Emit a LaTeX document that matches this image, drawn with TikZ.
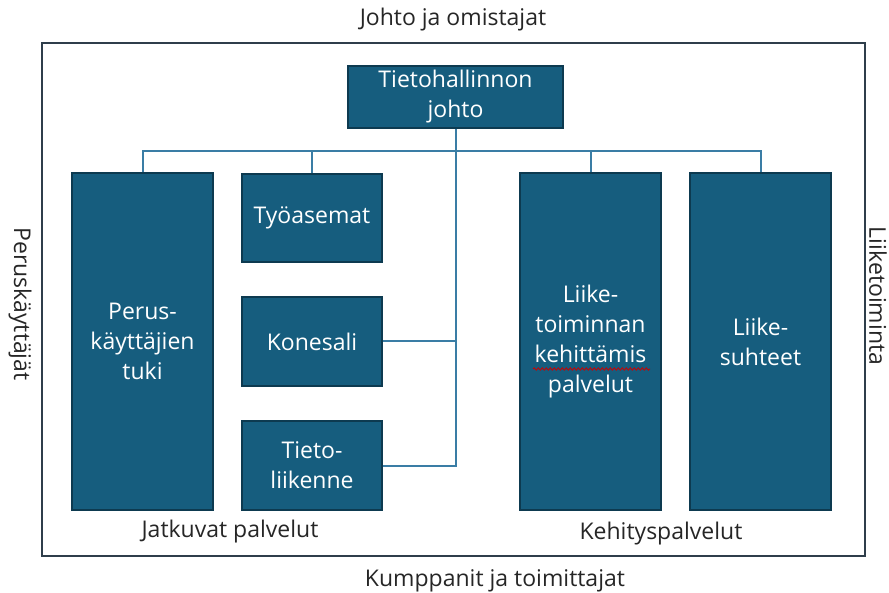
\documentclass[tikz,border=0pt]{standalone}
\usepackage{fontspec}
\setmainfont{Open Sans}
\usetikzlibrary{decorations.pathmorphing}

\definecolor{boxblue}{HTML}{165D7E}
\definecolor{boxedge}{HTML}{0D3A50}
\definecolor{linkblue}{HTML}{3A7DA5}
\definecolor{framegray}{HTML}{2F3E4B}
\definecolor{labelgray}{HTML}{262626}

\begin{document}
\begin{tikzpicture}[x=1pt,y=-1pt,
    unit/.style={rectangle, draw=boxedge, fill=boxblue, line width=1.2pt,
        text=white, align=center, inner sep=0pt,
        font=\fontsize{23}{30}\selectfont},
    side/.style={inner sep=0pt, text=labelgray, font=\fontsize{23}{28}\selectfont},
    link/.style={draw=linkblue, line width=2pt}]

    \useasboundingbox (0,0) rectangle (889,593);

    % frame
    \node[draw=framegray, line width=1.4pt, minimum width=823, minimum height=513,
        inner sep=0pt] (frame) at (453.5,299.5) {};

    % outer labels
    \node[side] (omistajat) at (453,20) {Johto ja omistajat};
    \node[side] (kumppanit) at (495,581) {Kumppanit ja toimittajat};
    \node[side, rotate=-90] (perusk) at (20,304) {Peruskäyttäjät};
    \node[side, rotate=-90] (liiketoim) at (878,296) {Liiketoiminta};
    \node[side] (jatkuvat) at (230,532) {Jatkuvat palvelut};
    \node[side] (kehitys) at (661,534) {Kehityspalvelut};

    % boxes
    \node[unit, minimum width=215, minimum height=62] (johto) at (455.5,97) {Tietohallinnon\\johto};
    \node[unit, minimum width=141, minimum height=337] (perus) at (142.5,341.5) {Perus-\\käyttäjien\\tuki};
    \node[unit, minimum width=140, minimum height=88] (tyo) at (312,218) {Työasemat};
    \node[unit, minimum width=140, minimum height=89] (konesali) at (312,341.5) {Konesali};
    \node[unit, minimum width=140, minimum height=89] (tieto) at (312,465.5) {Tieto-\\liikenne};
    \node[unit, minimum width=141, minimum height=337] (liike) at (590.5,341.5) {Liike-\\toiminnan\\kehittämis\\palvelut};
    \node[unit, minimum width=141, minimum height=337] (suhteet) at (760.5,341.5) {Liike-\\suhteet};

    % connectors
    \coordinate (bus) at (0,151);
    \draw[link] (perus.north) |- (bus -| suhteet.north) -- (suhteet.north);
    \draw[link] (tyo.north) -- (tyo.north |- bus);
    \draw[link] (liike.north) -- (liike.north |- bus);
    \draw[link] (johto.south) -- (johto.south |- tieto.east) -- (tieto.east);
    \draw[link] (konesali.east) -- (konesali.east -| johto.south);

    % spell check mark
    \draw[red!80!black, line width=0.8pt, decorate,
        decoration={snake, amplitude=1.2pt, segment length=4pt}] (533,369) -- (650,369);

\end{tikzpicture}
\end{document}
